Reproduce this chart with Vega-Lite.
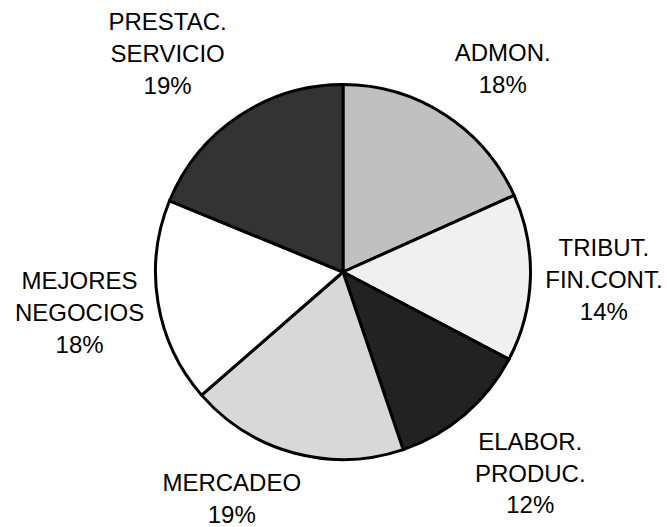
{
  "$schema": "https://vega.github.io/schema/vega-lite/v6.json",
  "width": 648,
  "height": 510,
  "autosize": {"type": "none"},
  "padding": {"left": 19, "top": 17, "right": 0, "bottom": 0},
  "background": "white",
  "config": {"view": {"stroke": null}, "font": "Liberation Sans"},
  "data": {"values": [
    {"n": 1, "cat": "ADMON.", "label": "ADMON.\n18%", "value": 18.3},
    {"n": 2, "cat": "TRIBUT. FIN.CONT.", "label": "TRIBUT.\nFIN.CONT.\n14%", "value": 14.4},
    {"n": 3, "cat": "ELABOR. PRODUC.", "label": "ELABOR.\nPRODUC.\n12%", "value": 12.1},
    {"n": 4, "cat": "MERCADEO", "label": "MERCADEO\n19%", "value": 18.8},
    {"n": 5, "cat": "MEJORES NEGOCIOS", "label": "MEJORES\nNEGOCIOS\n18%", "value": 17.6},
    {"n": 6, "cat": "PRESTAC. SERVICIO", "label": "PRESTAC.\nSERVICIO\n19%", "value": 18.8}
  ]},
  "encoding": {
    "theta": {"field": "value", "type": "quantitative", "stack": true},
    "order": {"field": "n", "type": "quantitative"}
  },
  "layer": [
    {
      "mark": {"type": "arc", "outerRadius": 187.5, "stroke": "black", "strokeWidth": 3, "strokeJoin": "miter"},
      "encoding": {
        "color": {
          "field": "cat", "type": "nominal", "legend": null,
          "scale": {
            "domain": ["ADMON.", "TRIBUT. FIN.CONT.", "ELABOR. PRODUC.", "MERCADEO", "MEJORES NEGOCIOS", "PRESTAC. SERVICIO"],
            "range": ["#c0c0c0", "#f0f0f0", "#222222", "#d8d8d8", "#ffffff", "#333333"]
          }
        }
      }
    },
    {
      "mark": {"type": "text", "radius": 257, "dx": 20, "dy": -2, "fontSize": 24, "lineHeight": 31.7, "lineBreak": "\n", "align": "center", "baseline": "middle", "color": "black"},
      "encoding": {"text": {"condition": {"test": "datum.n === 1", "field": "label", "type": "nominal"}, "value": ""}}
    },
    {
      "mark": {"type": "text", "radius": 261, "dx": 0, "dy": -31, "fontSize": 24, "lineHeight": 31.7, "lineBreak": "\n", "align": "center", "baseline": "middle", "color": "black"},
      "encoding": {"text": {"condition": {"test": "datum.n === 2", "field": "label", "type": "nominal"}, "value": ""}}
    },
    {
      "mark": {"type": "text", "radius": 276, "dx": 8, "dy": -39, "fontSize": 24, "lineHeight": 31.7, "lineBreak": "\n", "align": "center", "baseline": "middle", "color": "black"},
      "encoding": {"text": {"condition": {"test": "datum.n === 3", "field": "label", "type": "nominal"}, "value": ""}}
    },
    {
      "mark": {"type": "text", "radius": 254, "dx": -45, "dy": -33, "fontSize": 24, "lineHeight": 31.7, "lineBreak": "\n", "align": "center", "baseline": "middle", "color": "black"},
      "encoding": {"text": {"condition": {"test": "datum.n === 4", "field": "label", "type": "nominal"}, "value": ""}}
    },
    {
      "mark": {"type": "text", "radius": 267, "dx": 0, "dy": -33, "fontSize": 24, "lineHeight": 31.7, "lineBreak": "\n", "align": "center", "baseline": "middle", "color": "black"},
      "encoding": {"text": {"condition": {"test": "datum.n === 5", "field": "label", "type": "nominal"}, "value": ""}}
    },
    {
      "mark": {"type": "text", "radius": 279, "dx": -20, "dy": -17, "fontSize": 24, "lineHeight": 31.7, "lineBreak": "\n", "align": "center", "baseline": "middle", "color": "black"},
      "encoding": {"text": {"condition": {"test": "datum.n === 6", "field": "label", "type": "nominal"}, "value": ""}}
    }
  ]
}
